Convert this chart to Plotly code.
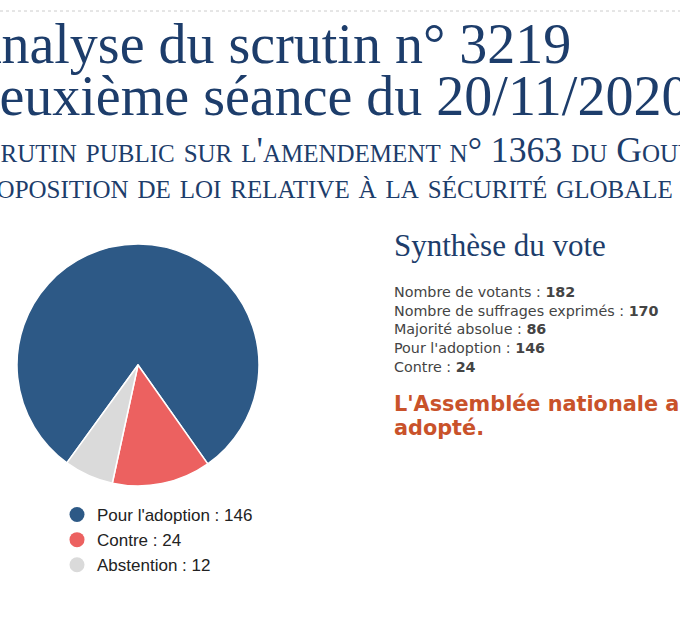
import plotly.graph_objects as go

W, H = 680, 629

# Données du scrutin
labels = ["Pour l'adoption", "Contre", "Abstention"]
votes = [146, 24, 12]
couleurs = ["#2d5986", "#ec6160", "#dadada"]

synthese_libelles = ["Nombre de votants", "Nombre de suffrages exprimés",
                     "Majorité absolue", "Pour l'adoption", "Contre"]
synthese_valeurs = [182, 170, 86, 146, 24]

titre = ["Analyse du scrutin n° 3219", "Deuxième séance du 20/11/2020"]
sous_titre = ["Scrutin public sur l'amendement n° 1363 du Gouvernement à l'article 24 de la",
              "proposition de loi relative à la sécurité globale (première lecture)."]
resultat = ["L'Assemblée nationale a", "adopté."]

NAVY = "#1d3d6b"
SERIF = "Liberation Serif, Georgia, serif"
SANS = "DejaVu Sans, Verdana, sans-serif"


def px_x(x):
    return x / W


def px_y(y):
    return 1 - y / H


fig = go.Figure()

# camembert
fig.add_trace(go.Pie(
    labels=labels, values=votes, sort=False, direction="clockwise", rotation=-144,
    marker=dict(colors=couleurs, line=dict(color="white", width=1.5)),
    textinfo="none", showlegend=False, hoverinfo="label+value",
    domain=dict(x=[px_x(138 - 121), px_x(138 + 121)], y=[px_y(365 + 121), px_y(365 - 121)]),
))

# légende à pastilles rondes
for lab, v, c in zip(labels, votes, couleurs):
    fig.add_trace(go.Scatter(x=[None], y=[None], mode="markers", name=f"{lab} : {v}",
                             marker=dict(color=c, size=15, symbol="circle")))

ann = []
# titre (coupé à gauche comme dans la page)
ann.append(dict(text=titre[0], x=px_x(-41.5), y=px_y(44), font=dict(family=SERIF, size=56, color=NAVY)))
ann.append(dict(text=titre[1], x=px_x(-43), y=px_y(96), font=dict(family=SERIF, size=56, color=NAVY)))
ann.append(dict(text=sous_titre[0], x=px_x(-37.6), y=px_y(150),
                font=dict(family=SERIF, size=35.7, color=NAVY, variant="small-caps")))
ann.append(dict(text=sous_titre[1], x=px_x(-35.6), y=px_y(186),
                font=dict(family=SERIF, size=35.7, color=NAVY, variant="small-caps")))

ann.append(dict(text="Synthèse du vote", x=px_x(392), y=px_y(246),
                font=dict(family=SERIF, size=31, color=NAVY)))

for i, (lib, val) in enumerate(zip(synthese_libelles, synthese_valeurs)):
    ann.append(dict(text=f"{lib} : <b>{val}</b>", x=px_x(392), y=px_y(292 + i * 18.7),
                    font=dict(family=SANS, size=14.3, color="#444444")))

for i, ligne in enumerate(resultat):
    ann.append(dict(text=f"<b>{ligne}</b>", x=px_x(392), y=px_y(404 + i * 23.5),
                    font=dict(family=SANS, size=20.8, color="#c9522a")))

for a in ann:
    a.update(xref="paper", yref="paper", xanchor="left", yanchor="middle", showarrow=False)

fig.update_layout(
    width=W, height=H,
    margin=dict(l=0, r=0, t=0, b=0),
    paper_bgcolor="white", plot_bgcolor="white",
    annotations=ann,
    xaxis=dict(visible=False), yaxis=dict(visible=False),
    legend=dict(x=px_x(57), y=px_y(497), xanchor="left", yanchor="top",
                font=dict(family="Liberation Sans, Arial, sans-serif", size=17, color="#222222"),
                bgcolor="rgba(0,0,0,0)"),
    shapes=[dict(type="line", xref="paper", yref="paper", x0=0, x1=1, y0=px_y(11), y1=px_y(11),
                 line=dict(color="#cccccc", width=1, dash="dot"))],
)

# la page a une marge par défaut de 8px : on la retire
fig.write_html("out.html", config={"displayModeBar": False},
               post_script="document.body.style.margin='0px';")
